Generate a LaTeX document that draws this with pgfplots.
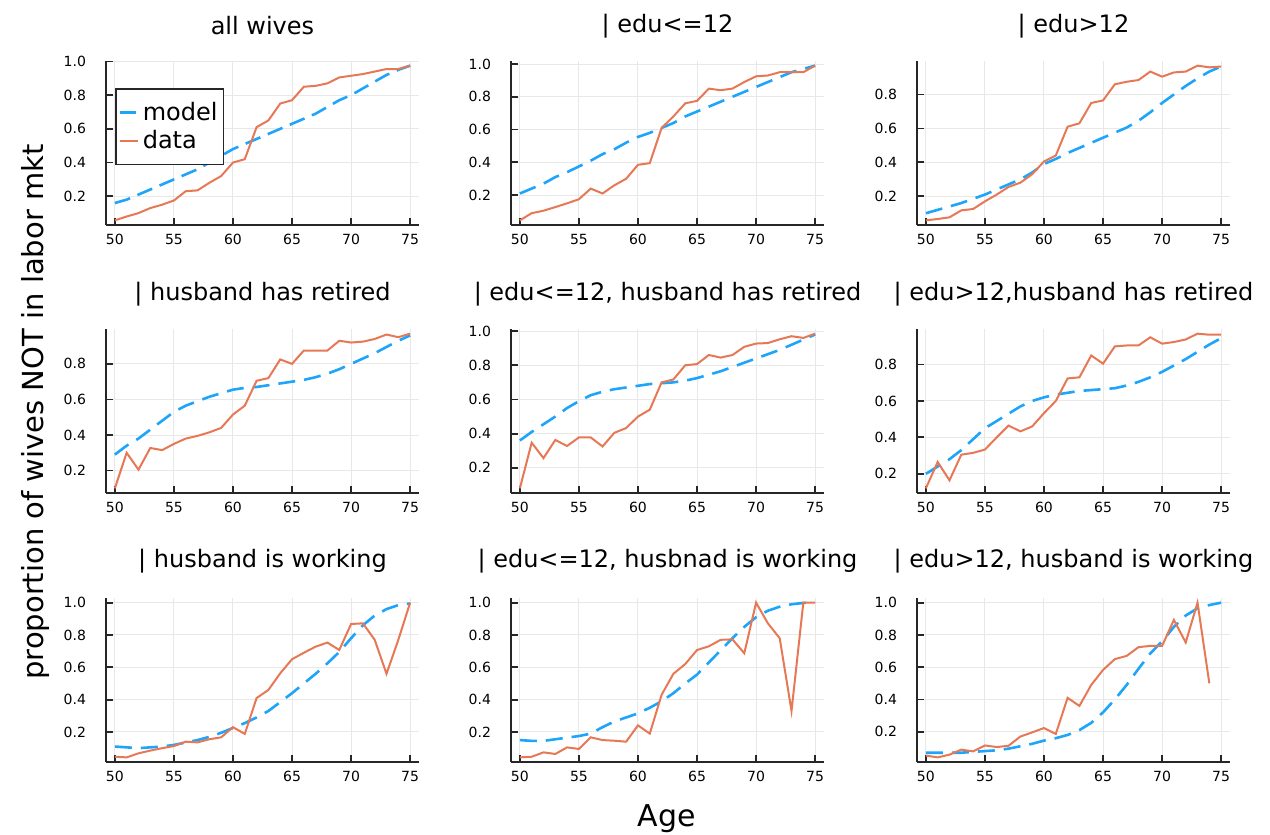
\documentclass[border=0pt]{standalone}
\usepackage{fontspec}
\setmainfont{DejaVu Sans}
\usepackage{pgfplots}
\usepackage{pgfplotstable}
\pgfplotsset{compat=1.18}
\definecolor{pblue}{RGB}{30,165,250}
\definecolor{porange}{RGB}{230,120,85}

\pgfplotstableread{
a m d
50 .16 .057
51 .18 .08
52 .21 .10
53 .24 .13
54 .27 .15
55 .30 .175
56 .33 .23
57 .36 .235
58 .40 .28
59 .44 .32
60 .48 .40
61 .51 .42
62 .54 .61
63 .57 .65
64 .60 .75
65 .63 .77
66 .66 .85
67 .69 .855
68 .73 .87
69 .77 .905
70 .80 .915
71 .84 .925
72 .88 .94
73 .92 .955
74 .95 .955
75 .975 .975
}\Pone
\pgfplotstableread{
a m d
50 .21 .046
51 .24 .09
52 .27 .105
53 .31 .127
54 .34 .15
55 .375 .175
56 .41 .24
57 .45 .21
58 .48 .26
59 .52 .30
60 .555 .385
61 .58 .395
62 .61 .61
63 .64 .68
64 .68 .76
65 .71 .775
66 .74 .85
67 .77 .84
68 .80 .85
69 .83 .89
70 .86 .925
71 .89 .93
72 .92 .95
73 .95 .95
74 .97 .95
75 .99 .99
}\Ptwo
\pgfplotstableread{
a m d
50 .10 .058
51 .12 .066
52 .14 .076
53 .16 .117
54 .185 .125
55 .21 .17
56 .24 .21
57 .27 .255
58 .30 .28
59 .34 .33
60 .39 .405
61 .42 .44
62 .455 .61
63 .485 .63
64 .515 .75
65 .545 .765
66 .575 .86
67 .605 .875
68 .645 .885
69 .695 .935
70 .75 .905
71 .80 .93
72 .85 .935
73 .895 .97
74 .935 .96
75 .965 .965
}\Pthree
\pgfplotstableread{
a m d
50 .29 .10
51 .34 .30
52 .38 .205
53 .43 .327
54 .48 .315
55 .53 .35
56 .565 .38
57 .59 .395
58 .615 .415
59 .635 .44
60 .655 .515
61 .665 .565
62 .67 .705
63 .68 .72
64 .69 .825
65 .70 .80
66 .71 .875
67 .725 .875
68 .745 .875
69 .77 .93
70 .80 .92
71 .83 .925
72 .86 .94
73 .895 .965
74 .93 .95
75 .96 .97
}\Pfour
\pgfplotstableread{
a m d
50 .36 .08
51 .41 .347
52 .455 .257
53 .50 .363
54 .55 .328
55 .59 .378
56 .625 .378
57 .645 .325
58 .66 .405
59 .67 .433
60 .68 .50
61 .69 .54
62 .695 .70
63 .70 .717
64 .71 .80
65 .725 .807
66 .745 .86
67 .765 .845
68 .79 .86
69 .815 .908
70 .84 .927
71 .865 .93
72 .89 .952
73 .92 .97
74 .95 .96
75 .98 .985
}\Pfive
\pgfplotstableread{
a m d
50 .20 .12
51 .24 .265
52 .28 .164
53 .33 .305
54 .39 .315
55 .45 .333
56 .49 .40
57 .53 .465
58 .57 .433
59 .60 .46
60 .62 .533
61 .635 .60
62 .645 .724
63 .655 .73
64 .66 .85
65 .665 .805
66 .67 .90
67 .685 .905
68 .705 .905
69 .73 .95
70 .76 .915
71 .795 .924
72 .83 .938
73 .87 .97
74 .91 .964
75 .945 .964
}\Psix
\pgfplotstableread{
a m d
50 .11 .047
51 .105 .043
52 .10 .068
53 .105 .085
54 .11 .10
55 .12 .113
56 .135 .14
57 .15 .136
58 .17 .155
59 .195 .167
60 .225 .23
61 .255 .188
62 .29 .41
63 .33 .46
64 .385 .563
65 .44 .65
66 .50 .69
67 .56 .728
68 .625 .753
69 .695 .707
70 .78 .868
71 .86 .872
72 .92 .77
73 .96 .56
74 .985 .77
75 .995 1.0
}\Pseven
\pgfplotstableread{
a m d
50 .15 .043
51 .145 .047
52 .145 .074
53 .155 .064
54 .165 .105
55 .175 .095
56 .19 .167
57 .23 .15
58 .265 .146
59 .29 .14
60 .315 .241
61 .35 .19
62 .39 .43
63 .44 .56
64 .50 .62
65 .555 .707
66 .63 .73
67 .705 .77
68 .78 .773
69 .85 .687
70 .91 1.0
71 .95 .872
72 .975 .78
73 .99 .33
74 .998 1.0
75 1.0 1.0
}\Peight
\pgfplotstableread{
a m d
50 .07 .052
51 .07 .041
52 .07 .058
53 .07 .089
54 .075 .078
55 .08 .115
56 .085 .105
57 .095 .113
58 .11 .17
59 .125 .196
60 .145 .223
61 .16 .186
62 .18 .41
63 .21 .36
64 .255 .49
65 .32 .583
66 .40 .65
67 .49 .67
68 .59 .724
69 .685 .732
70 .76 .732
71 .85 .893
72 .92 .753
73 .965 1.0
74 .985 .50
75 1.0 nan
}\Pnine

\pgfplotsset{
  every axis title shift=0pt,
  panel/.style={
    scale only axis, width=156.5pt, height=82pt, anchor=north west,
    axis lines*=left,
    axis line style={black!85, line width=1pt},
    tick align=inside, major tick length=3.5pt,
    tick style={black!85, line width=0.9pt},
    xtick={50,55,...,75}, ytick={0.2,0.4,0.6,0.8,1.0},
    grid=major, major grid style={black!9, line width=0.5pt},
    enlarge x limits=0.03, enlarge y limits=0.03,
    /pgf/number format/assume math mode=true,
    ticklabel style={font=\fontsize{7}{8}\selectfont},
    xticklabel style={yshift=-1pt},
    yticklabel style={xshift=-6.5pt, /pgf/number format/fixed, /pgf/number format/fixed zerofill, /pgf/number format/precision=1},
    title style={font=\fontsize{12}{14}\selectfont, at={(0.5,1)}, anchor=center, yshift=17.5pt},
  },
  model/.style={pblue, line width=1.3pt, dash pattern=on 8.5pt off 4.5pt, mark=none},
  data/.style={porange, line width=1pt, mark=none},
}

\begin{document}
\begin{tikzpicture}
\useasboundingbox (0,0) rectangle (635pt,-417.5pt);

\begin{axis}[panel, at={(53pt,-30.5pt)}, title={all wives},
  legend style={at={(0.03,0.835)}, anchor=north west, draw=black!85, line width=0.8pt,
    font=\fontsize{12}{13}\selectfont, inner xsep=1.5pt, inner ysep=6pt, fill=white,
    row sep=2.5pt, nodes={inner xsep=1.5pt, inner ysep=0.5pt}},
  legend cell align=left,
  legend image code/.code={\draw[#1] (0pt,0pt) -- (9pt,0pt);}]
\addplot[model, dash pattern=on 8pt off 4pt] table[x=a,y=m]{\Pone};
\addlegendentry{model}
\addplot[data] table[x=a,y=d]{\Pone};
\addlegendentry{data}
\end{axis}

\begin{axis}[panel, at={(255.5pt,-30.5pt)}, title={| edu<=12}]
\addplot[model] table[x=a,y=m]{\Ptwo};
\addplot[data] table[x=a,y=d]{\Ptwo};
\end{axis}

\begin{axis}[panel, at={(458.5pt,-30.5pt)}, title={| edu>12}]
\addplot[model] table[x=a,y=m]{\Pthree};
\addplot[data] table[x=a,y=d]{\Pthree};
\end{axis}

\begin{axis}[panel, at={(53pt,-164.5pt)}, title={| husband has retired}]
\addplot[model] table[x=a,y=m]{\Pfour};
\addplot[data] table[x=a,y=d]{\Pfour};
\end{axis}

\begin{axis}[panel, at={(255.5pt,-164.5pt)}, title={| edu<=12, husband has retired}]
\addplot[model] table[x=a,y=m]{\Pfive};
\addplot[data] table[x=a,y=d]{\Pfive};
\end{axis}

\begin{axis}[panel, at={(458.5pt,-164.5pt)}, title={| edu>12,husband has retired}]
\addplot[model] table[x=a,y=m]{\Psix};
\addplot[data] table[x=a,y=d]{\Psix};
\end{axis}

\begin{axis}[panel, at={(53pt,-299pt)}, title={| husband is working}, title style={yshift=1pt}]
\addplot[model] table[x=a,y=m]{\Pseven};
\addplot[data] table[x=a,y=d]{\Pseven};
\end{axis}

\begin{axis}[panel, at={(255.5pt,-299pt)}, title={| edu<=12, husbnad is working}, title style={yshift=1pt}]
\addplot[model] table[x=a,y=m]{\Peight};
\addplot[data] table[x=a,y=d]{\Peight};
\end{axis}

\begin{axis}[panel, at={(458.5pt,-299pt)}, title={| edu>12, husband is working}, title style={yshift=1pt}]
\addplot[model] table[x=a,y=m]{\Pnine};
\addplot[data] table[x=a,y=d]{\Pnine};
\end{axis}

\node[rotate=90, font=\fontsize{14.5}{16}\selectfont] at (17.5pt,-206pt) {proportion of wives NOT in labor mkt};
\node[font=\fontsize{15}{17}\selectfont] at (333.5pt,-409.5pt) {Age};
\end{tikzpicture}
\end{document}
